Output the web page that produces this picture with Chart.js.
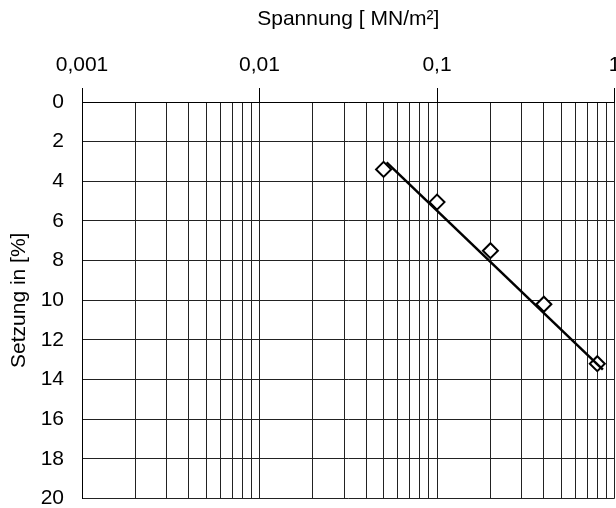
<!DOCTYPE html>
<html>
<head>
<meta charset="utf-8">
<script src="https://cdn.jsdelivr.net/npm/chart.js@4/dist/chart.umd.min.js"></script>
<style>
  html, body { margin: 0; padding: 0; background: #fff; overflow: hidden; }
  #wrap { width: 624px; height: 508px; position: relative; }
</style>
</head>
<body>
<div id="wrap"><canvas id="chart"></canvas></div>
<script>
/* Messwerte: Spannung [MN/m²] gegen Setzung [%] */
const stress = [0.05, 0.1, 0.2, 0.4, 0.8];
const settlement = [3.4, 5.05, 7.5, 10.2, 13.2];

const fitStress = [0.052, 0.86];
const fitSettlement = [3.05, 13.5];

/* Achsen */
const decades = [0.001, 0.01, 0.1];
const decadeSteps = [1, 2, 3, 4, 5, 6, 7, 8, 9];
const xMajorTicks = [0.001, 0.01, 0.1, 1];
const xMajorLabels = ['0,001', '0,01', '0,1', '1'];
const yTickStep = 2;

const xGridValues = [];
decades.forEach(d => decadeSteps.forEach(s => xGridValues.push(+(d * s).toPrecision(3))));
xGridValues.push(1);

const isMajor = v => xMajorTicks.some(m => Math.abs(m - v) / m < 1e-6);
const majorLabel = v => {
  const i = xMajorTicks.findIndex(m => Math.abs(m - v) / m < 1e-6);
  return i >= 0 ? xMajorLabels[i] : '';
};

const font = { family: '"Liberation Sans", Arial, sans-serif', size: 21 };
const gridColor = '#222';

new Chart(document.getElementById('chart'), {
  type: 'scatter',
  data: {
    datasets: [
      {
        label: 'Ausgleichsgerade',
        data: fitStress.map((x, i) => ({ x, y: fitSettlement[i] })),
        showLine: true,
        borderColor: '#000',
        borderWidth: 2.5,
        pointRadius: 0,
        order: 0
      },
      {
        label: 'Messwerte',
        data: stress.map((x, i) => ({ x, y: settlement[i] })),
        showLine: false,
        pointStyle: 'rectRot',
        pointRadius: 7.5,
        pointBorderWidth: 2,
        pointBorderColor: '#000',
        pointBackgroundColor: '#fff',
        order: 1
      }
    ]
  },
  options: {
    responsive: true,
    maintainAspectRatio: false,
    animation: false,
    layout: { padding: 0 },
    plugins: { legend: { display: false }, tooltip: { enabled: false } },
    scales: {
      x: {
        type: 'logarithmic',
        position: 'top',
        min: 0.001,
        max: 1,
        afterBuildTicks: scale => {
          scale.ticks = xGridValues.map(v => ({ value: v, major: isMajor(v) }));
        },
        // fixed band heights so the plot sits where the original does
        afterFit: s => { s.height = 102; s.paddingLeft = 0; s.paddingRight = 6; },
        ticks: {
          autoSkip: false,
          maxRotation: 0,
          color: '#000',
          font,
          padding: 10,
          callback: v => majorLabel(v)
        },
        grid: {
          color: gridColor,
          lineWidth: 1,
          tickLength: 14,
          tickColor: ctx => (ctx.tick && isMajor(ctx.tick.value)) ? '#000' : 'rgba(0,0,0,0)'
        },
        border: { color: '#000', width: 1 },
        title: {
          display: true,
          text: 'Spannung [ MN/m²]',
          color: '#000',
          font,
          padding: { top: 7, bottom: 22 }
        }
      },
      y: {
        reverse: true,
        min: 0,
        max: 20,
        afterFit: s => { s.width = 82; s.paddingTop = 0; s.paddingBottom = 8.7; },
        ticks: {
          stepSize: yTickStep,
          color: '#000',
          font,
          padding: 18
        },
        grid: { color: gridColor, lineWidth: 1, drawTicks: false },
        border: { color: '#000', width: 1 },
        title: {
          display: true,
          text: 'Setzung in [%]',
          color: '#000',
          font,
          padding: { top: 7, bottom: 10 }
        }
      }
    }
  }
});
</script>
</body>
</html>
